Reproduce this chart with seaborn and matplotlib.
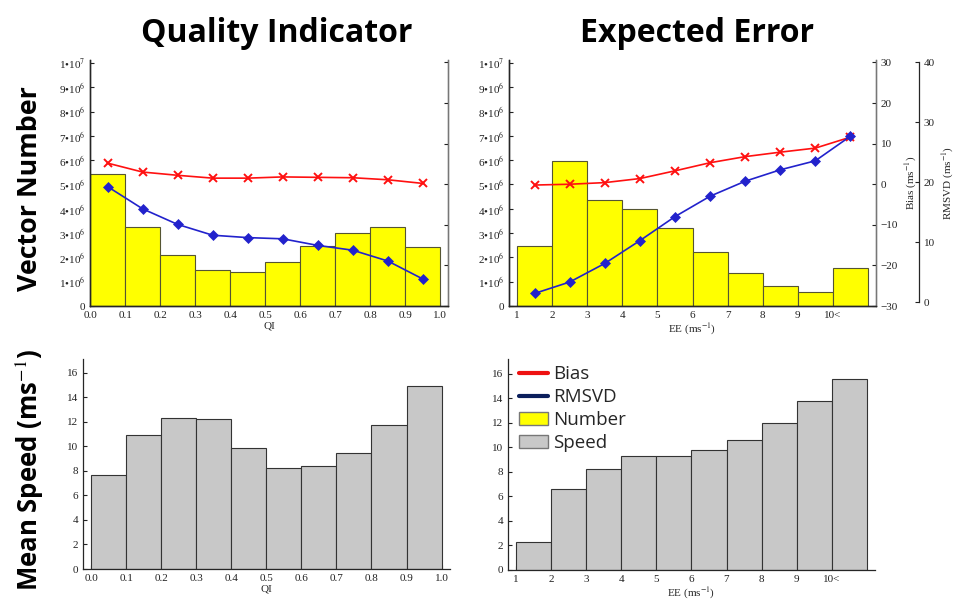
"""
Vector number, bias, RMSVD and mean speed binned by quality indicator (QI)
and by expected error (EE). Saved to out.png.
"""
import matplotlib
matplotlib.use("Agg")
import matplotlib.pyplot as plt
from matplotlib.lines import Line2D
from matplotlib.patches import Patch
import seaborn as sns

sns.set_style("ticks")
plt.rcParams["font.family"] = ["Liberation Serif", "DejaVu Serif"]
plt.rcParams["mathtext.fontset"] = "stix"

# bins
qi_edges = [0.0, 0.1, 0.2, 0.3, 0.4, 0.5, 0.6, 0.7, 0.8, 0.9, 1.0]
qi_mid = [0.05, 0.15, 0.25, 0.35, 0.45, 0.55, 0.65, 0.75, 0.85, 0.95]
ee_edges = [1, 2, 3, 4, 5, 6, 7, 8, 9, 10, 11]
ee_mid = [1.5, 2.5, 3.5, 4.5, 5.5, 6.5, 7.5, 8.5, 9.5, 10.5]
qi_ticklabels = ["0.0", "0.1", "0.2", "0.3", "0.4", "0.5", "0.6", "0.7",
                 "0.8", "0.9", "1.0"]
ee_ticklabels = ["1", "2", "3", "4", "5", "6", "7", "8", "9", "10<"]

# vector number per bin
qi_number = [5.43e6, 3.23e6, 2.08e6, 1.47e6, 1.39e6, 1.83e6, 2.45e6,
             2.99e6, 3.27e6, 2.41e6]
ee_number = [2.47e6, 5.95e6, 4.35e6, 4.01e6, 3.19e6, 2.21e6, 1.37e6,
             0.84e6, 0.56e6, 1.56e6]

# bias (ms-1)
qi_bias = [5.2, 3.0, 2.2, 1.5, 1.5, 1.8, 1.7, 1.6, 1.1, 0.2]
ee_bias = [-0.2, 0.0, 0.4, 1.4, 3.3, 5.3, 6.8, 7.9, 8.9, 11.6]

# RMSVD (ms-1)
qi_rmsvd = [19.3, 15.6, 13.0, 11.2, 10.8, 10.6, 9.5, 8.7, 6.9, 3.9]
ee_rmsvd = [1.5, 3.4, 6.5, 10.3, 14.3, 17.7, 20.2, 22.1, 23.6, 27.7]

# mean speed (ms-1)
qi_speed = [7.67, 10.9, 12.3, 12.25, 9.88, 8.19, 8.41, 9.47, 11.73, 14.94]
ee_speed = [2.25, 6.59, 8.27, 9.32, 9.27, 9.81, 10.62, 12.0, 13.79, 15.58]

YELLOW = "#ffff00"
GRAY = "#c8c8c8"
RED = "#ff1010"
BLUE = "#2222cc"

num_ticks = [0, 1e6, 2e6, 3e6, 4e6, 5e6, 6e6, 7e6, 8e6, 9e6, 1e7]
num_labels = ["0"] + ["%d•10$^{6}$" % i for i in range(1, 10)] + \
    ["1•10$^{7}$"]


def style_axis(ax):
    ax.tick_params(direction="in", length=3, labelsize=8, colors="#222222")
    for s in ax.spines.values():
        s.set_linewidth(0.9)


def number_panel(ax, mid, edges, number, bias, rmsvd, show_right):
    sns.histplot(x=mid, weights=number, bins=edges, ax=ax, color=YELLOW,
                 edgecolor="#555533", linewidth=0.8, alpha=1)
    ax.set_ylim(0, 1.012e7)
    ax.set_yticks(num_ticks)
    ax.set_yticklabels(num_labels)
    ax.set_ylabel("")
    ax.spines["top"].set_visible(False)
    style_axis(ax)

    ax_b = ax.twinx()
    sns.lineplot(x=mid, y=bias, ax=ax_b, color=RED, marker="x",
                 markersize=6, markeredgewidth=1.4, markeredgecolor=RED,
                 linewidth=1.2)
    ax_b.set_ylim(-30, 30.6)
    ax_b.set_yticks([-30, -20, -10, 0, 10, 20, 30])
    ax_b.spines["top"].set_visible(False)
    ax_b.spines["right"].set_color("#777777")
    style_axis(ax_b)

    ax_r = ax.twinx()
    sns.lineplot(x=mid, y=rmsvd, ax=ax_r, color=BLUE, marker="D",
                 markersize=5, linewidth=1.2, markeredgecolor=BLUE,
                 markeredgewidth=0.5)
    ax_r.set_ylim(-0.6, 40.4)
    ax_r.spines["top"].set_visible(False)
    style_axis(ax_r)
    if show_right:
        ax_b.set_ylabel("Bias (ms$^{-1}$)", fontsize=8)
        ax_r.spines["right"].set_position(("axes", 1.117))
        ax_r.spines["right"].set_bounds(0, 40)
        ax_r.set_yticks([0, 10, 20, 30, 40])
        ax_r.set_ylabel("RMSVD (ms$^{-1}$)", fontsize=8)
    else:
        ax_b.set_yticklabels([])
        ax_b.set_ylabel("")
        ax_r.spines["right"].set_visible(False)
        ax_r.set_yticks([])
        ax_r.set_ylabel("")
    return ax_b, ax_r


def speed_panel(ax, mid, edges, speed):
    sns.histplot(x=mid, weights=speed, bins=edges, ax=ax, color=GRAY,
                 edgecolor="#333333", linewidth=0.8, alpha=1)
    ax.set_yticks([0, 2, 4, 6, 8, 10, 12, 14, 16])
    ax.set_ylabel("")
    ax.spines["top"].set_visible(False)
    ax.spines["right"].set_visible(False)
    style_axis(ax)


fig = plt.figure(figsize=(9.65, 6.05), dpi=100)

ax1 = fig.add_axes([0.0933, 0.4942, 0.371, 0.4066])
number_panel(ax1, qi_mid, qi_edges, qi_number, qi_bias, qi_rmsvd, False)
ax1.set_xlim(0, 1.022)
ax1.set_xticks(qi_edges)
ax1.set_xticklabels(qi_ticklabels)
ax1.set_xlabel("QI", fontsize=8, labelpad=1)

ax2 = fig.add_axes([0.5275, 0.4942, 0.3803, 0.4066])
number_panel(ax2, ee_mid, ee_edges, ee_number, ee_bias, ee_rmsvd, True)
ax2.set_xlim(0.77, 11.23)
ax2.set_xticks(ee_edges[:-1])
ax2.set_xticklabels(ee_ticklabels)
ax2.set_xlabel("EE (ms$^{-1}$)", fontsize=8, labelpad=1)

ax3 = fig.add_axes([0.086, 0.0595, 0.3803, 0.3471])
speed_panel(ax3, qi_mid, qi_edges, qi_speed)
ax3.set_xlim(-0.023, 1.024)
ax3.set_ylim(0, 17.1)
ax3.set_xticks(qi_edges)
ax3.set_xticklabels(qi_ticklabels)
ax3.set_xlabel("QI", fontsize=8, labelpad=1)

ax4 = fig.add_axes([0.5264, 0.0579, 0.3803, 0.3487])
speed_panel(ax4, ee_mid, ee_edges, ee_speed)
ax4.set_xlim(0.77, 11.23)
ax4.set_ylim(0, 17.2)
ax4.set_xticks(ee_edges[:-1])
ax4.set_xticklabels(ee_ticklabels)
ax4.set_xlabel("EE (ms$^{-1}$)", fontsize=8, labelpad=1)

handles = [Line2D([], [], color="#ee1111", linewidth=3),
           Line2D([], [], color="#0b1f5c", linewidth=3),
           Patch(facecolor=YELLOW, edgecolor="#777777"),
           Patch(facecolor=GRAY, edgecolor="#777777")]
ax4.legend(handles, ["Bias", "RMSVD", "Number", "Speed"], loc="upper left",
           bbox_to_anchor=(-0.015, 1.05), frameon=False, handlelength=1.55,
           handletextpad=0.25, labelspacing=0.26,
           prop={"family": ["Open Sans", "DejaVu Sans"], "size": 13.5})

title_font = {"family": ["Open Sans", "DejaVu Sans"], "weight": "bold",
              "color": "black"}
fig.text(0.287, 0.944, "Quality Indicator", ha="center", va="center",
         size=23, **title_font)
fig.text(0.722, 0.944, "Expected Error", ha="center", va="center",
         size=23, **title_font)
fig.text(0.031, 0.689, "Vector Number", rotation=90, ha="center",
         va="center", size=19.3, **title_font)
fig.text(0.031, 0.223, "Mean Speed (ms$^{-1}$)", rotation=90, ha="center",
         va="center", size=18.5, **title_font)

fig.savefig("out.png", dpi=100)
